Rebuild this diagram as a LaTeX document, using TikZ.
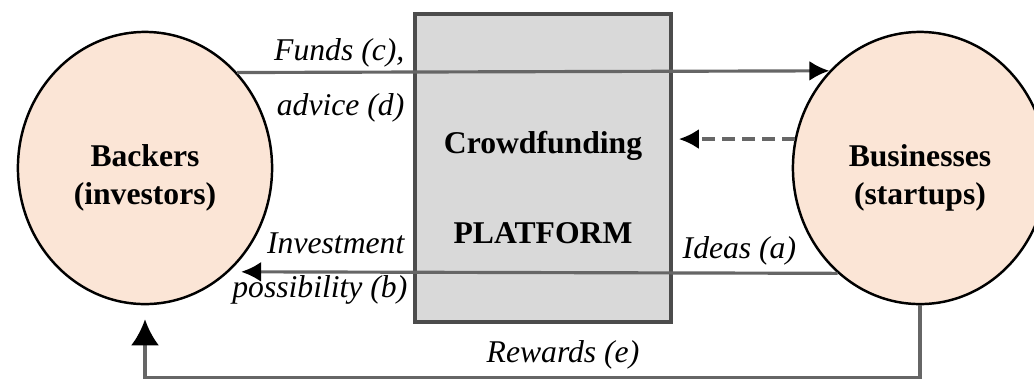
\documentclass[tikz,border=0pt]{standalone}
\usepackage{fontspec}
\setmainfont{Liberation Serif}[
	BoldFont={Liberation Serif Bold},
	ItalicFont={Liberation Serif Italic}]
\usetikzlibrary{arrows.meta,shapes.geometric}
\definecolor{peach}{HTML}{FBE5D6}
\definecolor{boxgray}{HTML}{D9D9D9}

\begin{document}
\begin{tikzpicture}[x=0.01cm,y=-0.01cm,
	party/.style={ellipse, draw=black, line width=0.7pt, fill=peach, minimum width=2.54cm, minimum height=2.72cm, inner sep=0pt},
	partytext/.style={align=center, yshift=-0.1cm, font=\fontsize{9}{11}\selectfont\bfseries},
	boxtext/.style={anchor=base, font=\fontsize{9}{11}\selectfont\bfseries},
	flow/.style={black!60, line width=0.9pt, -{Latex[black,length=2mm,width=2mm]}},
	flowlabel/.style={inner sep=0pt, font=\fontsize{9}{11}\selectfont\itshape}]
	\useasboundingbox (0,0) rectangle (1034,378);

	\node[draw=black!70, line width=1pt, fill=boxgray, minimum width=2.56cm, minimum height=3.08cm] (platform) at (543,168) {};
	\node[boxtext] (crowd) at (543,153) {Crowdfunding};
	\node[boxtext] (plat) at (543,243) {PLATFORM};

	\node[party, label={[partytext]center:Backers\\(investors)}] (backers) at (145,168) {};
	\node[party, label={[partytext]center:Businesses\\(startups)}] (businesses) at (920,168) {};

	% funds and advice
	\draw[flow](backers.46.2) -- (businesses.133.8);
	\node[flowlabel, anchor=base east] (funds) at (405,60) {Funds (c),};
	\node[flowlabel, anchor=base east] (advice) at (405,115) {advice (d)};
	% ideas
	\draw[flow, dashed, dash pattern=on 1.3mm off 0.7mm, shorten >=0.6mm](businesses.167.3) -- (businesses.167.3 -| platform.east);
	% investment possibility
	\draw[flow, shorten >=1.2mm](businesses.-128.8) -- (backers.-51.2);
	\node[flowlabel, anchor=base east] (invest) at (405,253) {Investment};
	\node[flowlabel, anchor=base east] (possib) at (408,297) {possibility (b)};
	\node[flowlabel, anchor=base west] (ideas) at (682,258) {Ideas (a)};
	% rewards
	\draw[flow, -{Latex[black,length=2.6mm,width=2.8mm]}, shorten >=1.4mm](businesses.south) -- ++(0,72) -| (backers.south);
	\node[flowlabel, anchor=base] (rewards) at (563,362) {Rewards (e)};
\end{tikzpicture}
\end{document}
